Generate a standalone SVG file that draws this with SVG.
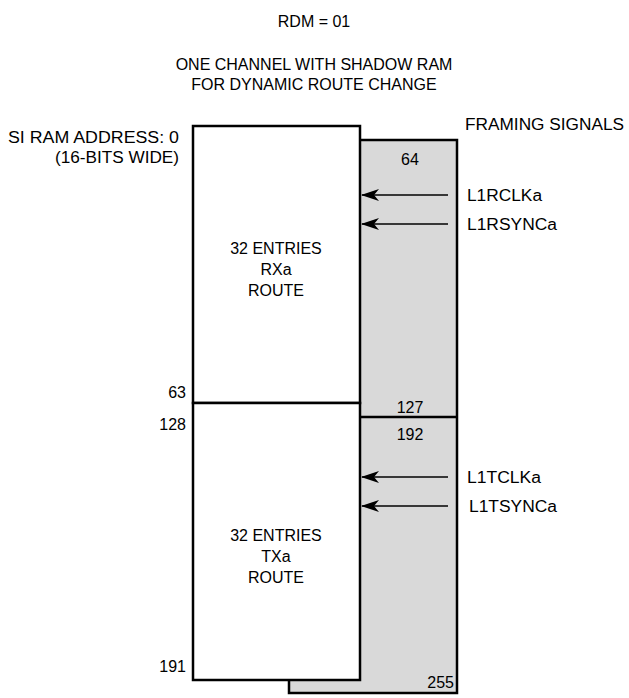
<svg xmlns="http://www.w3.org/2000/svg" width="629" height="698" viewBox="0 0 629 698">
<defs>
<style>
text{font-family:"Liberation Sans",Arial,sans-serif;font-size:16px;fill:#000}
.m{text-anchor:middle}.e{text-anchor:end}
.box{stroke:#000;stroke-width:2.5}
.ln{stroke:#000;stroke-width:1.3;fill:none}
</style>
<marker id="ah" markerWidth="18" markerHeight="12" refX="17" refY="6" orient="auto" markerUnits="userSpaceOnUse">
<path d="M0,0 L18,6 L0,12 L5,6 Z" fill="#000"/>
</marker>
</defs>
<rect width="629" height="698" fill="#fff"/>
<text class="m" x="314" y="27">RDM = 01</text>
<text class="m" x="314" y="70">ONE CHANNEL WITH SHADOW RAM</text>
<text class="m" x="314" y="90">FOR DYNAMIC ROUTE CHANGE</text>
<text x="465" y="130" textLength="159" lengthAdjust="spacingAndGlyphs">FRAMING SIGNALS</text>
<text x="8" y="143" textLength="171" lengthAdjust="spacingAndGlyphs">SI RAM ADDRESS: 0</text>
<text x="55" y="163" textLength="124" lengthAdjust="spacingAndGlyphs">(16-BITS WIDE)</text>
<g id="shadow">
<rect class="box" x="289" y="140" width="168" height="553" fill="#d9d9d9"/>
<line class="box" x1="359" y1="417" x2="457" y2="417"/>
<text class="m" x="410" y="165">64</text>
<text class="m" x="410" y="413">127</text>
<text class="m" x="410" y="440">192</text>
<text class="e" x="454" y="688">255</text>
</g>
<g id="rx">
<rect class="box" x="193" y="126" width="167" height="277" fill="#fff"/>
<text class="m" x="276" y="254">32 ENTRIES</text>
<text class="m" x="276" y="275">RXa</text>
<text class="m" x="276" y="296">ROUTE</text>
<text class="e" x="186" y="398">63</text>
</g>
<g id="tx">
<rect class="box" x="193" y="403" width="167" height="277" fill="#fff"/>
<text class="m" x="276" y="541">32 ENTRIES</text>
<text class="m" x="276" y="562">TXa</text>
<text class="m" x="276" y="583">ROUTE</text>
<text class="e" x="186" y="430">128</text>
<text class="e" x="186" y="672">191</text>
</g>
<g id="connectors">
<line class="ln" x1="448" y1="195" x2="362" y2="195" marker-end="url(#ah)"/>
<line class="ln" x1="448" y1="224" x2="362" y2="224" marker-end="url(#ah)"/>
<line class="ln" x1="448" y1="477" x2="362" y2="477" marker-end="url(#ah)"/>
<line class="ln" x1="448" y1="506" x2="362" y2="506" marker-end="url(#ah)"/>
</g>
<g id="labels">
<text x="467" y="201" textLength="75" lengthAdjust="spacingAndGlyphs">L1RCLKa</text>
<text x="467" y="230" textLength="90" lengthAdjust="spacingAndGlyphs">L1RSYNCa</text>
<text x="467" y="483" textLength="74" lengthAdjust="spacingAndGlyphs">L1TCLKa</text>
<text x="469" y="512" textLength="88" lengthAdjust="spacingAndGlyphs">L1TSYNCa</text>
</g>
</svg>
